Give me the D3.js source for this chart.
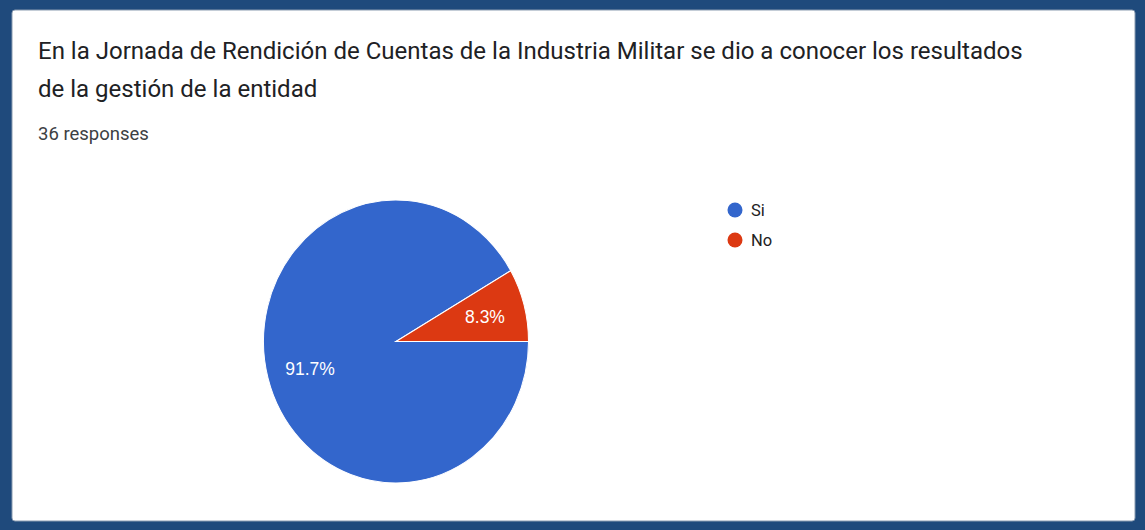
<!DOCTYPE html>
<html><head><meta charset="utf-8">
<script src="https://cdn.jsdelivr.net/npm/d3@7"></script>
<style>html,body{margin:0;padding:0;background:#1f4a7c;}svg{display:block;}</style>
</head><body>
<svg id="c" width="1145" height="530"></svg>
<script>
const titleLines = ["En la Jornada de Rendición de Cuentas de la Industria Militar se dio a conocer los resultados", "de la gestión de la entidad"];
const subtitle = "36 responses";
const categories = ["Si", "No"];
const values = [33, 3];
const colors = ["#3366cc", "#dc3912"];

const svg = d3.select("#c");
svg.append("rect").attr("width",1145).attr("height",530).attr("fill","#1f4a7c");
svg.append("rect").attr("x",12).attr("y",10).attr("width",1123).attr("height",511)
  .attr("fill","#fff").attr("stroke","#8a9bb0").attr("stroke-width",1).attr("rx",3);

const t = svg.append("g").attr("font-family","Roboto, Arial, sans-serif").attr("fill","#202124");
const l1 = t.append("text").attr("x",38).attr("y",59).attr("font-size",20).text(titleLines[0]);
const fs = 20 * 985 / l1.node().getComputedTextLength();
l1.attr("font-size",fs);
t.append("text").attr("x",38).attr("y",97).attr("font-size",fs).text(titleLines[1]);
const st = t.append("text").attr("x",38).attr("y",140).attr("font-size",15).attr("fill","#3c4043").text(subtitle);
st.attr("font-size", 15 * 111 / st.node().getComputedTextLength());

const total = d3.sum(values);
const pie = d3.pie().sort(null).startAngle(Math.PI/2).endAngle(Math.PI/2 + 2*Math.PI);
const arcs = pie(values);
const r = 132.5, ry = 141.5;
const arc = d3.arc().innerRadius(0).outerRadius(r);
const g = svg.append("g").attr("transform",`translate(396,341.5) scale(1,${ry/r})`);
g.selectAll("path").data(arcs).join("path").attr("d",arc)
  .attr("fill",(d,i)=>colors[i]).attr("stroke","#fff").attr("stroke-width",1);

const labelPos = [[310,375],[485,323]];
const fmt = v => (Math.round(v/total*1000)/10).toFixed(1)+"%";
svg.append("g").selectAll("text").data(arcs).join("text")
  .attr("x",(d,i)=>labelPos[i][0]).attr("y",(d,i)=>labelPos[i][1])
  .attr("text-anchor","middle").attr("font-family","Arial, Liberation Sans, sans-serif")
  .attr("font-size",17.5).attr("fill","#fff").text(d=>fmt(d.value));

const lg = svg.append("g").attr("font-family","Roboto, Arial, sans-serif");
categories.forEach((c,i)=>{
  lg.append("circle").attr("cx",735).attr("cy",210+i*30).attr("r",7.5).attr("fill",colors[i]);
  lg.append("text").attr("x",751).attr("y",216+i*30).attr("font-size",16.5).attr("fill","#222").text(c);
});
</script>
</body></html>
